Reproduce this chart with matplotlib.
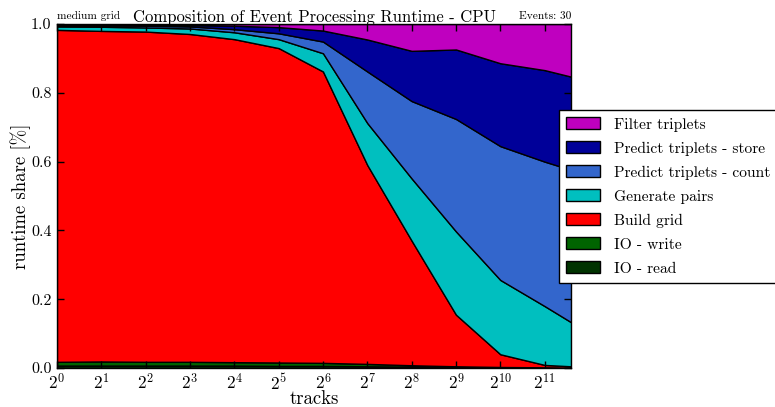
import math
import matplotlib
matplotlib.use("Agg")
import matplotlib.pyplot as plt
from matplotlib.ticker import FixedLocator, NullLocator, FuncFormatter

plt.rcParams['font.family'] = ['cmr10', 'DejaVu Serif']
plt.rcParams['mathtext.fontset'] = 'cm'
plt.rcParams['axes.formatter.use_mathtext'] = True

# number of tracks per event
tracks = [1, 2, 4, 8, 16, 32, 64, 128, 256, 512, 1024, 2048, 3100]

# runtime share of each stage
io_read = [0.007, 0.007, 0.007, 0.007, 0.007, 0.006, 0.006, 0.005, 0.004, 0.003, 0.002, 0.001, 0.001]
io_write = [0.011, 0.012, 0.011, 0.011, 0.010, 0.010, 0.009, 0.007, 0.004, 0.002, 0.001, 0.001, 0.000]
build_grid = [0.965, 0.961, 0.960, 0.953, 0.939, 0.914, 0.847, 0.578, 0.362, 0.150, 0.037, 0.007, 0.004]
gen_pairs = [0.010, 0.012, 0.012, 0.016, 0.020, 0.026, 0.053, 0.122, 0.181, 0.242, 0.216, 0.171, 0.128]
pred_count = [0.003, 0.004, 0.005, 0.006, 0.009, 0.017, 0.034, 0.150, 0.225, 0.327, 0.389, 0.420, 0.443]
pred_store = [0.002, 0.002, 0.003, 0.004, 0.010, 0.018, 0.032, 0.093, 0.146, 0.202, 0.241, 0.266, 0.271]
filter_trip = [0.002, 0.002, 0.002, 0.003, 0.005, 0.009, 0.019, 0.045, 0.078, 0.074, 0.114, 0.134, 0.153]

labels = ['IO - read', 'IO - write', 'Build grid', 'Generate pairs',
          'Predict triplets - count', 'Predict triplets - store', 'Filter triplets']
colors = ['#003300', '#006400', '#ff0000', '#00bfbf', '#3366cc', '#000099', '#bf00bf']

fig = plt.figure(figsize=(7.75, 4.07), dpi=100)
ax = fig.add_axes([0.0735, 0.0958, 0.6635, 0.8452])

ax.stackplot(tracks, io_read, io_write, build_grid, gen_pairs, pred_count,
             pred_store, filter_trip, labels=labels, colors=colors,
             edgecolor='k', linewidth=1)

ax.set_xscale('log', base=2)
ax.set_xlim(tracks[0], tracks[-1])
ax.set_ylim(0, 1)
ax.xaxis.set_major_locator(FixedLocator([2 ** i for i in range(12)]))
ax.xaxis.set_minor_locator(NullLocator())
ax.xaxis.set_major_formatter(FuncFormatter(lambda v, p: r'$2^{%d}$' % round(math.log2(v))))
ax.set_yticks([0.0, 0.2, 0.4, 0.6, 0.8, 1.0])
ax.yaxis.set_major_formatter(FuncFormatter(lambda v, p: '%.1f' % v))
ax.tick_params(direction='in', top=True, right=True, length=5, width=1)
ax.tick_params(axis='y', labelsize=11.5, pad=4)
ax.tick_params(axis='x', labelsize=12.5, pad=3)
for s in ax.spines.values():
    s.set_linewidth(1)

ax.set_xlabel('tracks', fontsize=13.5, labelpad=-1.5)
ax.set_ylabel('runtime share [%]', fontsize=13.5, labelpad=0)
ax.set_title('Composition of Event Processing Runtime - CPU', fontsize=12, pad=1.5)
ax.text(0.0, 1.008, 'medium grid', transform=ax.transAxes, fontsize=8.2,
        ha='left', va='bottom')
ax.text(1.0, 1.008, 'Events: 30', transform=ax.transAxes, fontsize=8.2,
        ha='right', va='bottom')

handles, lbls = ax.get_legend_handles_labels()
leg = fig.legend(handles[::-1], lbls[::-1], loc='center left',
                 bbox_to_anchor=(0.721, 0.517), fontsize=11.2, fancybox=False,
                 edgecolor='k', framealpha=1, borderpad=0.45, labelspacing=0.62,
                 handlelength=2.2, handleheight=0.8, handletextpad=0.9,
                 borderaxespad=0)
leg.get_frame().set_linewidth(1)

fig.savefig('out.png', dpi=100)
